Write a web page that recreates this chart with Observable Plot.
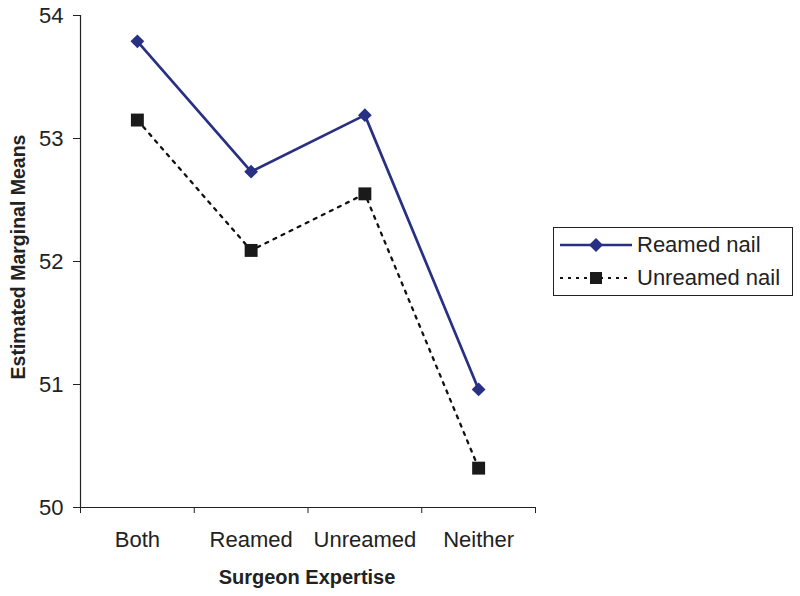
<!DOCTYPE html>
<html>
<head>
<meta charset="utf-8">
<script src="https://cdn.jsdelivr.net/npm/d3@7"></script>
<script src="https://cdn.jsdelivr.net/npm/@observablehq/plot@0.6"></script>
<style>
  body { margin: 0; background: #fff; font-family: "Liberation Sans", Arial, sans-serif; }
  #wrap { position: relative; width: 800px; height: 596px; }
  #legend { position: absolute; left: 553px; top: 227px; width: 238px; height: 67px; border: 1px solid #222; background: #fff; }
  .row { position: absolute; left: 0; height: 30px; display: flex; align-items: center; font-size: 22px; color: #222; white-space: nowrap; }
  .row svg { margin-left: 6px; margin-right: 5px; }
  #ytitle { position: absolute; left: 18px; top: 257px; transform: translate(-50%, -50%) rotate(-90deg); font-size: 19.5px; font-weight: bold; color: #222; white-space: nowrap; }
  #xtitle { position: absolute; left: 307px; top: 577px; transform: translate(-50%, -50%); font-size: 20px; font-weight: bold; color: #222; white-space: nowrap; }
</style>
</head>
<body>
<div id="wrap">
  <div id="chart"></div>
  <div id="ytitle">Estimated Marginal Means</div>
  <div id="xtitle">Surgeon Expertise</div>
  <div id="legend">
    <div class="row" style="top:2px">
      <svg width="72" height="20"><line x1="0" y1="10" x2="72" y2="10" stroke="#283084" stroke-width="2.7"/><path d="M36,3 L43,10 L36,17 L29,10 Z" fill="#283084"/></svg>Reamed nail
    </div>
    <div class="row" style="top:35px">
      <svg width="72" height="20"><line x1="0" y1="10" x2="72" y2="10" stroke="#111" stroke-width="2.2" stroke-dasharray="3,5"/><rect x="30" y="4" width="12" height="12" fill="#1a1a1a"/></svg>Unreamed nail
    </div>
  </div>
</div>
<script>
const categories = ["Both", "Reamed", "Unreamed", "Neither"];
const reamed = [53.79, 52.73, 53.19, 50.96];
const unreamed = [53.15, 52.09, 52.55, 50.32];
const yTicks = [50, 51, 52, 53, 54];

const rows = [];
categories.forEach((c, i) => {
  rows.push({cat: c, pos: i + 0.5, value: reamed[i], series: "Reamed nail"});
  rows.push({cat: c, pos: i + 0.5, value: unreamed[i], series: "Unreamed nail"});
});
const rRows = rows.filter(d => d.series === "Reamed nail");
const uRows = rows.filter(d => d.series === "Unreamed nail");

const chart = Plot.plot({
  width: 800,
  height: 596,
  marginLeft: 80,
  marginRight: 265,
  marginTop: 15,
  marginBottom: 89,
  style: { fontFamily: "Liberation Sans, Arial, sans-serif", color: "#222", background: "#fff" },
  x: { domain: [0, categories.length] },
  y: { domain: [50, 54] },
  marks: [
    Plot.axisY({ ticks: yTicks, tickSize: 7, tickPadding: 10, fontSize: 22, tickFormat: d => String(d), label: null }),
    Plot.ruleX([0], { stroke: "#222", strokeWidth: 1.2 }),
    Plot.ruleY([50], { stroke: "#222", strokeWidth: 1.2 }),
    Plot.axisX({ ticks: d3.range(categories.length + 1), tickSize: 6, tickFormat: () => "", label: null }),
    Plot.axisX({ ticks: categories.map((c, i) => i + 0.5), tickSize: 0, tickPadding: 24, fontSize: 22, tickFormat: v => categories[Math.floor(v)], label: null }),
    Plot.line(uRows, { x: "pos", y: "value", stroke: "#111", strokeWidth: 2.3, strokeDasharray: "3,6" }),
    Plot.line(rRows, { x: "pos", y: "value", stroke: "#283084", strokeWidth: 2.7 }),
    Plot.dot(uRows, { x: "pos", y: "value", symbol: "square", r: 7.3, fill: "#1a1a1a", stroke: "none" }),
    Plot.dot(rRows, { x: "pos", y: "value", symbol: "diamond2", r: 6.2, fill: "#283084", stroke: "none" })
  ]
});
document.getElementById("chart").appendChild(chart);
</script>
</body>
</html>
